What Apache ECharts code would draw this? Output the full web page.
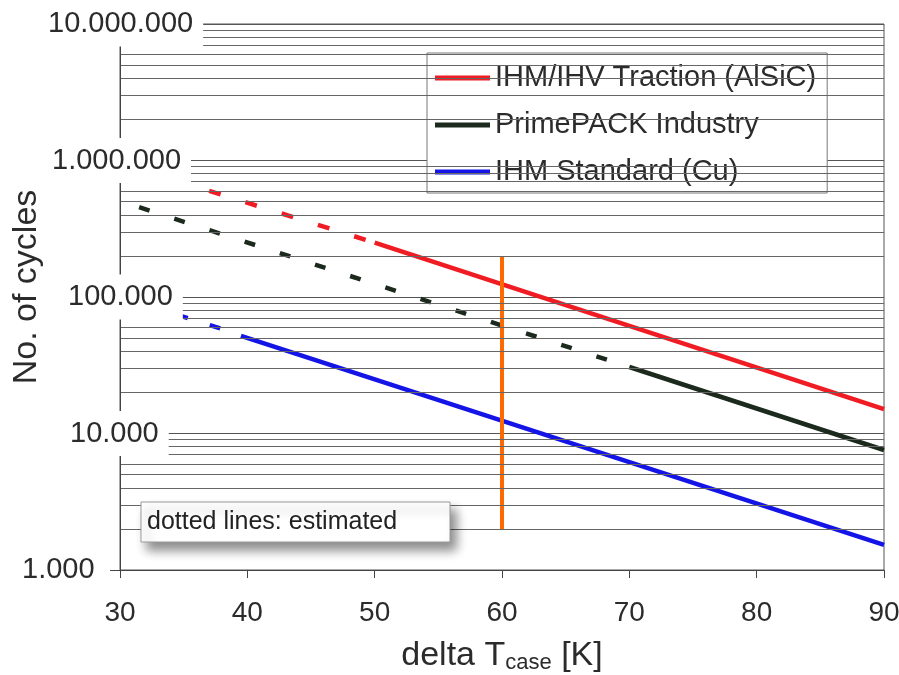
<!DOCTYPE html>
<html>
<head>
<meta charset="utf-8">
<style>
html,body{margin:0;padding:0;background:#fff}
#c{width:899px;height:675px}
</style>
<script src="https://cdn.jsdelivr.net/npm/echarts@6/dist/echarts.min.js"></script>
</head>
<body>
<div id="c"></div>
<script>
// ---- data ----
const seriesNames = ['IHM/IHV Traction (AlSiC)', 'PrimePACK Industry', 'IHM Standard (Cu)'];
const tractionMeasured   = [[50, 250000], [90, 15100]];
const tractionEstimated  = [[37, 600000], [50, 250000]];
const primepackMeasured  = [[70, 30700], [90, 7570]];
const primepackEstimated = [[31.5, 455000], [68.5, 34100]];
const standardMeasured   = [[39.5, 52000], [90, 1525]];
const standardEstimated  = [[34.5, 74000], [38.5, 56500]];
const markerLine         = [[60, 200000], [60, 2000]];
const yTickValues = [1000, 10000, 100000, 1000000, 10000000];
const yTickLabels = ['1.000', '10.000', '100.000', '1.000.000', '10.000.000'];
const minorFactors = [2, 3, 4, 5, 6, 7, 8, 9];
const noteText = 'dotted lines: estimated';

const FONT = '"Liberation Sans", Arial, sans-serif';
const minorValues = [];
yTickValues.slice(0, -1).forEach(d => minorFactors.forEach(f => minorValues.push(d * f)));

const chart = echarts.init(document.getElementById('c'), null, {renderer: 'canvas'});
chart.setOption({
  animation: false,
  backgroundColor: '#fff',
  textStyle: {fontFamily: FONT},
  grid: {left: 120, right: 15, top: 24, bottom: 105, containLabel: false, outerBoundsMode: 'none',
    show: true, borderColor: '#555', borderWidth: 1, z: 0},
  legend: {
    data: seriesNames, orient: 'vertical', left: 427, top: 53,
    padding: [9, 11, 5, 8], itemGap: 15, itemWidth: 55, itemHeight: 5, icon: 'rect',
    backgroundColor: '#fff', borderColor: '#777', borderWidth: 1,
    selectedMode: false,
    textStyle: {fontSize: 29, color: '#2b2b2b', fontFamily: FONT, lineHeight: 32}
  },
  xAxis: {
    type: 'value', min: 30, max: 90, interval: 10, z: 1,
    axisLine: {show: true, lineStyle: {color: '#444', width: 1}},
    axisTick: {show: true, length: 8, lineStyle: {color: '#444'}},
    splitLine: {show: false},
    axisLabel: {fontSize: 28, color: '#2b2b2b', margin: 29, fontFamily: FONT},
    name: 'delta T{sub|case} [K]', nameLocation: 'middle', nameGap: 68,
    nameTextStyle: {fontSize: 34, color: '#2b2b2b', fontFamily: FONT,
      rich: {sub: {fontSize: 22, color: '#2b2b2b', fontFamily: FONT, padding: [14, 0, 0, 0]}}}
  },
  yAxis: [
    {
      type: 'log', logBase: 10, min: 1000, max: 10000000, z: 0,
      axisLine: {show: false}, axisTick: {show: false}, axisLabel: {show: false},
      splitLine: {show: true, lineStyle: {color: '#555', width: 1}},
      name: 'No. of cycles', nameLocation: 'middle', nameGap: 76, nameMoveOverlap: false,
      nameTextStyle: {fontSize: 34, color: '#2b2b2b', fontFamily: FONT, padding: [0, 0, 0, 20]}
    },
    {
      type: 'log', logBase: 10, min: 1000, max: 10000000, z: 6, position: 'left', offset: 0,
      axisLine: {show: true, lineStyle: {color: '#444', width: 1}},
      axisTick: {show: true, length: 10, lineStyle: {color: '#444'}},
      splitLine: {show: false},
      axisLabel: {
        align: 'left', margin: 102, fontSize: 29, color: '#2b2b2b', fontFamily: FONT,
        formatter: function (v) {
          const i = Math.round(Math.log10(v)) - 3;
          const t = yTickLabels[i];
          return (i > 0 ? '{s' + i + '| }' : '') + '{b|' + t + '}';
        },
        rich: {
          s1: {width: 48}, s2: {width: 46}, s3: {width: 30}, s4: {width: 26},
          b: {backgroundColor: '#fff', padding: [8, 10, 8, 4], fontSize: 29, lineHeight: 29, color: '#2b2b2b', fontFamily: FONT}
        }
      }
    }
  ],
  series: [
    {
      type: 'line', name: '_minorGrid', data: [], z: 0, silent: true,
      markLine: {
        silent: true, symbol: ['none', 'none'], label: {show: false}, animation: false,
        lineStyle: {color: '#666', width: 1, type: 'solid'},
        emphasis: {disabled: true},
        data: minorValues.map(v => ({yAxis: v}))
      }
    },
    {type: 'line', name: 'est1', data: tractionEstimated, symbol: 'none', z: 3,
      lineStyle: {color: '#f01c24', width: 4.5, type: [12, 26], cap: 'butt'}},
    {type: 'line', name: 'est2', data: primepackEstimated, symbol: 'none', z: 3,
      lineStyle: {color: '#1c2a1e', width: 4.5, type: [11, 26], cap: 'butt'}},
    {type: 'line', name: 'est3', data: standardEstimated, symbol: 'none', z: 3,
      lineStyle: {color: '#1414e6', width: 4.5, type: [11, 23], cap: 'butt'}},
    {type: 'line', name: seriesNames[0], data: tractionMeasured, symbol: 'none', z: 3,
      itemStyle: {color: '#f01c24'}, lineStyle: {color: '#f01c24', width: 4.5}},
    {type: 'line', name: seriesNames[1], data: primepackMeasured, symbol: 'none', z: 3,
      itemStyle: {color: '#1c2a1e'}, lineStyle: {color: '#1c2a1e', width: 4.5}},
    {type: 'line', name: seriesNames[2], data: standardMeasured, symbol: 'none', z: 3,
      itemStyle: {color: '#1414e6'}, lineStyle: {color: '#1414e6', width: 4.5}},
    {type: 'line', name: 'marker', data: markerLine, symbol: 'none', z: 4,
      lineStyle: {color: '#ff6a00', width: 4}}
  ],
  graphic: [
    {type: 'rect', z: 10, shape: {x: 141, y: 502, width: 309, height: 40},
      style: {fill: '#fff', stroke: '#999', lineWidth: 1, shadowBlur: 10, shadowOffsetX: 6, shadowOffsetY: 8, shadowColor: 'rgba(0,0,0,0.45)'}},
    {type: 'text', z: 11, x: 147, y: 522,
      style: {text: noteText, fontSize: 25, fontFamily: FONT, fill: '#222', verticalAlign: 'middle'}}
  ]
});
</script>
</body>
</html>
